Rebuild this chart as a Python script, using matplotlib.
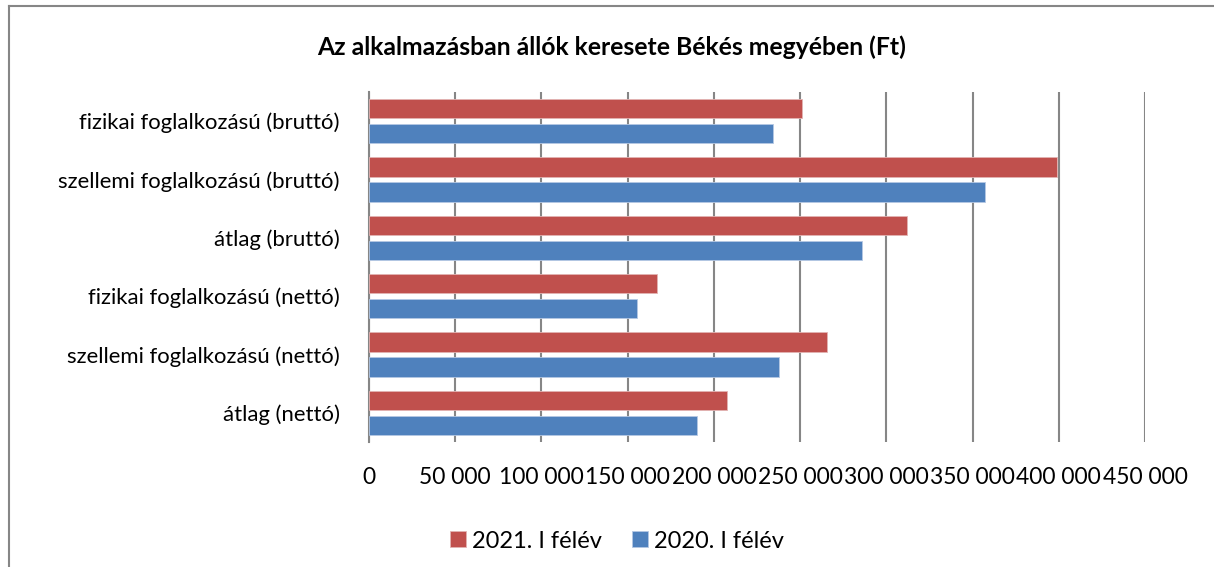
import numpy as np
import matplotlib.pyplot as plt
from matplotlib.lines import Line2D
from matplotlib.ticker import FuncFormatter

plt.rcParams['font.family'] = ['Lato', 'DejaVu Sans']

# kategoriak (felulrol lefele)
kategoriak = ['fizikai foglalkozású (bruttó)',
              'szellemi foglalkozású (bruttó)',
              'átlag (bruttó)',
              'fizikai foglalkozású (nettó)',
              'szellemi foglalkozású (nettó)',
              'átlag (nettó)']
ev_2021 = [250900, 399100, 312100, 166900, 265400, 207400]
ev_2020 = [234000, 357400, 286100, 155600, 237600, 190200]
cimkek = ['2021. I félév', '2020. I félév']

szurke = '#868686'
piros = '#C0504D'
kek = '#4F81BD'

fig = plt.figure(figsize=(12.14, 5.67), dpi=100)
ax = fig.add_axes([369 / 1214, 1 - 442 / 567, 776 / 1214, 350 / 567])

y = np.arange(len(kategoriak))
h = 0.33
ax.barh(y - 0.214, ev_2021, height=h, color=piros, label=cimkek[0],
        edgecolor='#E2B4B3', linewidth=0.6, zorder=3)
ax.barh(y + 0.214, ev_2020, height=h, color=kek, label=cimkek[1],
        edgecolor='#B5C8E3', linewidth=0.6, zorder=3)

ax.set_ylim(len(kategoriak) - 0.5, -0.5)
ax.set_yticks(y)
ax.set_yticklabels(kategoriak)
ax.set_xlim(0, 450000)
ax.set_xticks(np.arange(0, 450001, 50000))
ax.xaxis.set_major_formatter(FuncFormatter(lambda v, p: f'{int(v):,}'.replace(',', ' ')))

ax.grid(axis='x', color=szurke, linewidth=1.5, zorder=0)
for s in ['top', 'right', 'bottom']:
    ax.spines[s].set_visible(False)
ax.spines['left'].set_color(szurke)
ax.spines['left'].set_linewidth(1.5)
ax.tick_params(axis='x', length=0, pad=18, labelsize=16.5)
ax.tick_params(axis='y', length=0, pad=21, labelsize=15.9)

fig.text(612 / 1214, 1 - 47 / 567,
         'Az alkalmazásban állók keresete Békés megyében (Ft)',
         ha='center', va='center', fontsize=17.8, fontweight='bold')

fig.legend(loc='center', bbox_to_anchor=(617 / 1214, 1 - 541 / 567),
           ncol=2, frameon=False, fontsize=17, handlelength=0.68,
           handleheight=0.68, handletextpad=0.25, columnspacing=1.25,
           borderpad=0)

# keret a diagram korul
fig.add_artist(Line2D([8.5 / 1214, 8.5 / 1214], [0, 1 - 6 / 567],
                      color=szurke, linewidth=1.5, transform=fig.transFigure))
fig.add_artist(Line2D([8.5 / 1214, 1], [1 - 6 / 567, 1 - 6 / 567],
                      color=szurke, linewidth=1.5, transform=fig.transFigure))

plt.savefig('out.png')
